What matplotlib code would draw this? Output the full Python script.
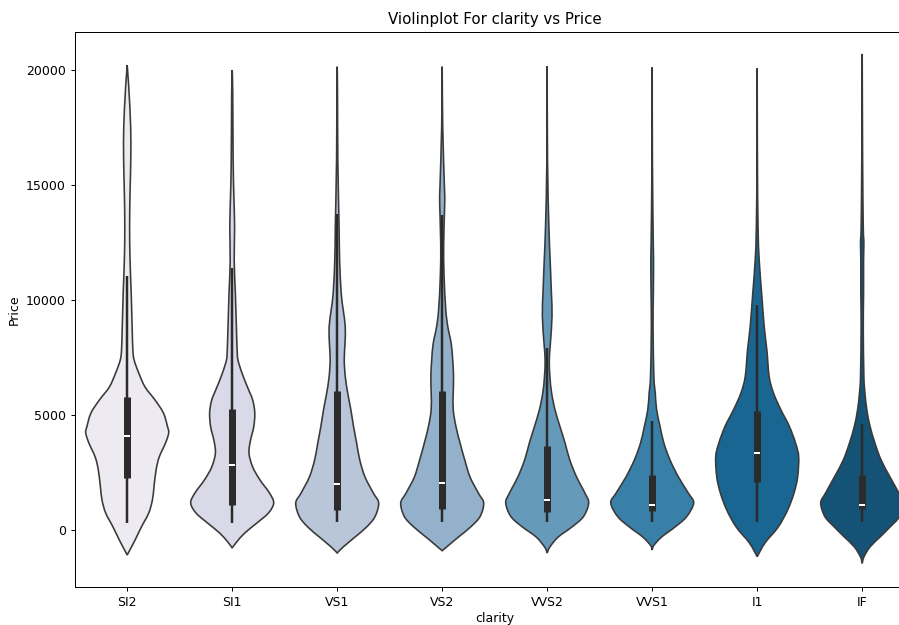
import matplotlib
matplotlib.use("Agg")
import matplotlib.pyplot as plt
from matplotlib.path import Path
from matplotlib.patches import PathPatch
import seaborn as sns

# ---- data ----
clarity = ["SI2", "SI1", "VS1", "VS2", "VVS2", "VVS1", "I1", "IF"]

# density profiles (price knots from bottom tip to top tip, half-width in category units)
si2_price = [-1087, -870, -435, 130, 739, 1304, 1870, 2609, 3174, 3783, 4217, 4478, 5087, 5652, 6218,
             6826, 7392, 7826, 8826, 10305, 11740, 13175, 14653, 16088, 17522, 19000, 19710, 20217]
si2_width = [0, 0.025, 0.075, 0.135, 0.205, 0.24, 0.255, 0.275, 0.305, 0.365, 0.395, 0.385, 0.345, 0.265, 0.17,
             0.11, 0.066, 0.054, 0.047, 0.038, 0.027, 0.023, 0.027, 0.034, 0.033, 0.018, 0.008, 0]

si1_price = [-783, -522, -130, 304, 739, 1174, 1609, 2174, 2739, 3348, 3913, 4478, 5087, 5652, 6218,
             6826, 7392, 7826, 8826, 10305, 11740, 13175, 14653, 16088, 19000, 20000]
si1_width = [0, 0.042, 0.12, 0.235, 0.345, 0.395, 0.355, 0.265, 0.195, 0.16, 0.175, 0.205, 0.215, 0.195, 0.145,
             0.093, 0.055, 0.047, 0.04, 0.03, 0.019, 0.023, 0.015, 0.009, 0.005, 0]

vs1_price = [-1000, -739, -304, 130, 580, 1174, 1600, 2304, 3043, 3783, 4520, 5232, 5957, 6667, 7392,
             8100, 8826, 9580, 10305, 11740, 13175, 16088, 19000, 20145]
vs1_width = [0, 0.057, 0.17, 0.28, 0.36, 0.395, 0.345, 0.265, 0.215, 0.185, 0.155, 0.13, 0.1, 0.077, 0.067,
             0.074, 0.077, 0.057, 0.038, 0.023, 0.018, 0.006, 0.003, 0]

vs2_price = [-900, -739, -304, 130, 580, 1174, 1600, 2304, 3043, 3783, 4520, 5232, 5957, 6667, 7392,
             8100, 8826, 9580, 11015, 12458, 14218, 14943, 17522, 20145]
vs2_width = [0, 0.042, 0.155, 0.27, 0.36, 0.395, 0.345, 0.265, 0.215, 0.17, 0.13, 0.105, 0.105, 0.108, 0.1,
             0.086, 0.054, 0.034, 0.018, 0.014, 0.024, 0.021, 0.005, 0]

vvs2_price = [-1000, -739, -304, 130, 580, 1174, 1600, 2304, 3043, 3783, 4520, 5232, 5957, 6667, 7392,
              8100, 9290, 10305, 11740, 13175, 16088, 20170]
vvs2_width = [0, 0.025, 0.105, 0.235, 0.345, 0.395, 0.36, 0.28, 0.215, 0.17, 0.12, 0.074, 0.042, 0.026, 0.02,
              0.03, 0.046, 0.04, 0.028, 0.016, 0.003, 0]

vvs1_price = [-870, -667, -304, 130, 580, 1174, 1600, 2304, 3043, 3783, 4520, 5232, 5957, 6667, 8826,
              10305, 11740, 12500, 16088, 20116]
vvs1_width = [0, 0.016, 0.09, 0.217, 0.328, 0.395, 0.345, 0.25, 0.17, 0.111, 0.074, 0.042, 0.029, 0.016, 0.008,
              0.011, 0.013, 0.01, 0.002, 0]

i1_price = [-1160, -565, 130, 870, 1600, 2304, 3188, 3783, 4520, 5232, 5957, 6667, 7826, 8826, 10305,
            11740, 13175, 16088, 20072]
i1_width = [0, 0.074, 0.2, 0.29, 0.35, 0.385, 0.395, 0.365, 0.305, 0.225, 0.155, 0.114, 0.092, 0.067, 0.042,
            0.019, 0.008, 0.002, 0]

if_price = [-1450, -1174, -739, -304, 130, 580, 1174, 1600, 2304, 3043, 3783, 4520, 5232, 5957, 6667,
            8826, 10305, 11740, 12500, 13175, 16088, 20700]
if_width = [0, 0.016, 0.074, 0.17, 0.265, 0.355, 0.395, 0.35, 0.265, 0.18, 0.121, 0.074, 0.044, 0.026, 0.016,
            0.01, 0.013, 0.013, 0.016, 0.01, 0.004, 0]

# inner box statistics
q1 = [2264, 1089, 876, 900, 794, 816, 2080, 895]
median = [4072, 2822, 2005, 2054, 1311, 1093, 3344, 1080]
q3 = [5777, 5250, 6023, 6024, 3638, 2379, 5161, 2388]
whis_lo = [326, 326, 327, 334, 336, 336, 345, 369]
whis_hi = [11047, 11400, 13743, 13700, 7904, 4724, 9783, 4628]

yticks = [0, 5000, 10000, 15000, 20000]

profiles = [(si2_price, si2_width), (si1_price, si1_width), (vs1_price, vs1_width), (vs2_price, vs2_width),
            (vvs2_price, vvs2_width), (vvs1_price, vvs1_width), (i1_price, i1_width), (if_price, if_width)]


def smooth_side(pts):
    """Bezier control points for a Catmull-Rom curve through pts (open curve)."""
    ext = [pts[0]] + pts + [pts[-1]]
    verts = []
    for k in range(len(pts) - 1):
        p0, p1, p2, p3 = ext[k], ext[k + 1], ext[k + 2], ext[k + 3]
        c1 = (p1[0] + (p2[0] - p0[0]) / 6, p1[1] + (p2[1] - p0[1]) / 6)
        c2 = (p2[0] - (p3[0] - p1[0]) / 6, p2[1] - (p3[1] - p1[1]) / 6)
        verts += [c1, c2, p2]
    return verts


# ---- drawing ----
dpi = 89.9
fig = plt.figure(figsize=(899 / dpi, 625 / dpi), dpi=dpi)
ax = fig.add_axes([74.7 / 899, (625 - 587.3) / 625, 840 / 899, (587.3 - 31.7) / 625])

pal = sns.color_palette("PuBu", len(clarity))
edge = "#3a3a3a"

for i, (prices, widths) in enumerate(profiles):
    col = sns.desaturate(pal[i], 0.75)
    right = [(i + w, p) for p, w in zip(prices, widths)]
    left = [(i - w, p) for p, w in zip(prices, widths)][::-1]
    verts = [right[0]] + smooth_side(right) + smooth_side(left) + [right[0]]
    codes = [Path.MOVETO] + [Path.CURVE4] * (len(verts) - 2) + [Path.CLOSEPOLY]
    patch = PathPatch(Path(verts, codes), facecolor=col, edgecolor=edge, linewidth=1.3, zorder=2)
    ax.add_patch(patch)
    # whiskers
    ax.plot([i, i], [whis_lo[i], whis_hi[i]], color="#2b2b2b", linewidth=2.0,
            solid_capstyle="butt", zorder=3)
    # box
    ax.plot([i, i], [q1[i], q3[i]], color="#2b2b2b", linewidth=5.6,
            solid_capstyle="butt", zorder=4)
    # median
    ax.plot([i], [median[i]], marker="_", color="white", markersize=4.5,
            markeredgewidth=1.6, zorder=5)

ax.set_xlim(-0.5, len(clarity) - 0.5)
ax.set_ylim(-2491, 21666)
ax.set_xticks(range(len(clarity)))
ax.set_xticklabels(clarity)
ax.set_yticks(yticks)
ax.set_yticklabels([str(v) for v in yticks])
ax.set_xlabel("clarity", labelpad=2.5)
ax.set_ylabel("Price")
ax.set_title("Violinplot For clarity vs Price")

fig.savefig("out.png", dpi=dpi)
